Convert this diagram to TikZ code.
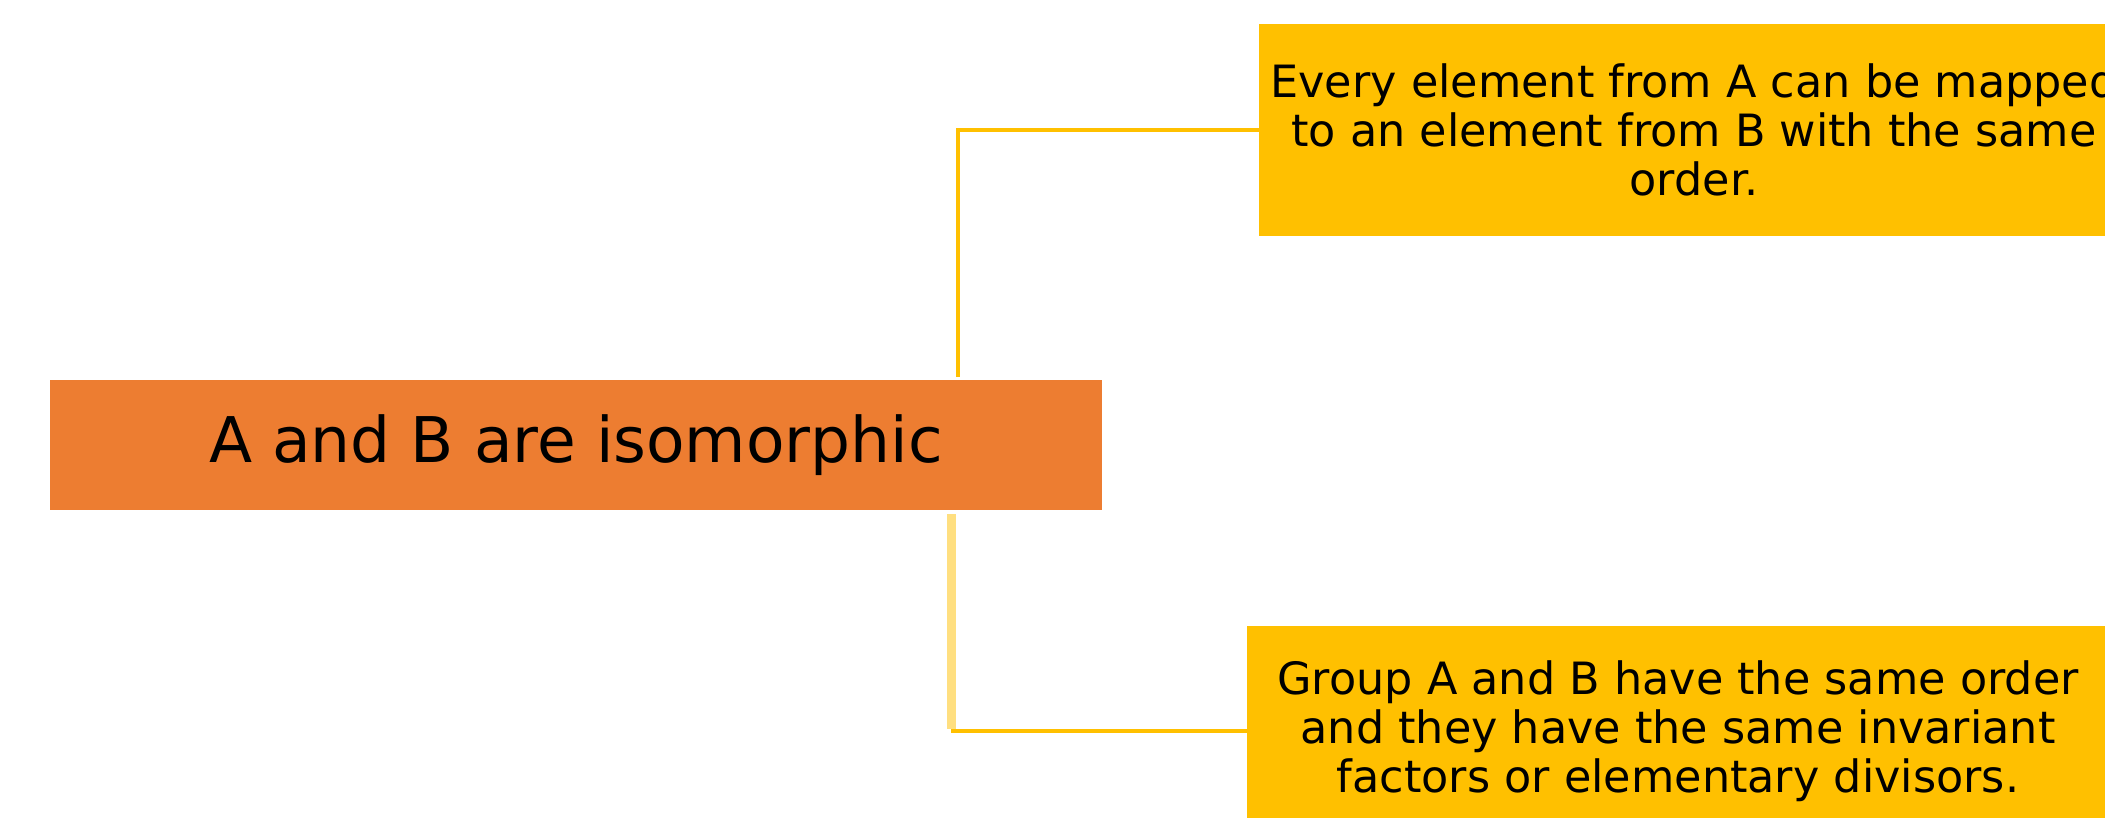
\documentclass[tikz,border=0pt]{standalone}
\usepackage{fontspec}
\setmainfont{DejaVu Sans}
\definecolor{orangebox}{HTML}{ED7D31}
\definecolor{yellowbox}{HTML}{FFC000}
\definecolor{lightyellow}{HTML}{FFDF80}
\tikzset{
  mainbox/.style={fill=orangebox, draw=none, inner sep=0pt, minimum width=1052pt, minimum height=130pt, font=\fontsize{63}{74}\selectfont, text=black},
  factbox/.style={fill=yellowbox, draw=none, inner sep=0pt, align=center, font=\fontsize{44.5}{49}\selectfont, text=black},
  link/.style={draw=yellowbox, line width=4pt},
  lightlink/.style={draw=lightyellow, line width=9pt}
}
\begin{document}
\begin{tikzpicture}[x=1pt,y=-1pt]
\useasboundingbox (0,0) rectangle (2105,818);
\clip (0,0) rectangle (2105,818);
\fill[white] (0,0) rectangle (2105,818);
\node[mainbox] (main) at (576,445) {A and B are isomorphic};
\node[factbox, minimum width=870pt, minimum height=212pt] (top) at (1694,130)
  {Every element from A can be mapped\\to an element from B with the same\\order.};
\node[factbox, minimum width=862pt, minimum height=210pt] (bottom) at (1678,731)
  {Group A and B have the same order\\and they have the same invariant\\factors or elementary divisors.};
\coordinate (topstart) at (958,377);
\coordinate (botstart) at (951,514);
\coordinate (botcorner) at (951,731);
\draw[link] (topstart) |- (top.west);
\draw[lightlink] (botstart) -- ([yshift=2pt]botcorner);
\draw[link] (botcorner) -- (bottom.west);
\end{tikzpicture}
\end{document}
